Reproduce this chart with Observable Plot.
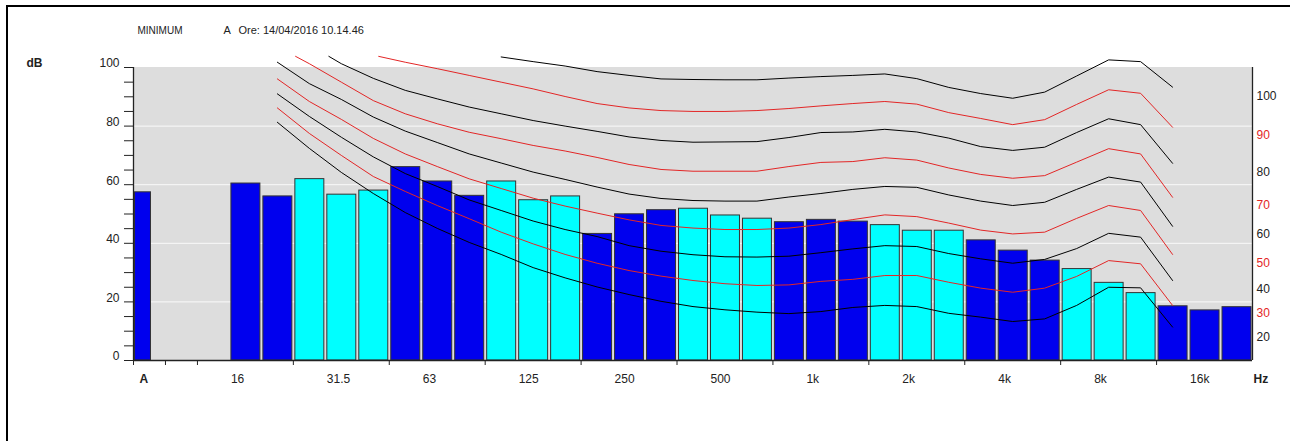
<!DOCTYPE html>
<html>
<head>
<meta charset="utf-8">
<script src="https://cdn.jsdelivr.net/npm/d3@7"></script>
<script src="https://cdn.jsdelivr.net/npm/@observablehq/plot@0.6"></script>
<style>
  html, body { margin: 0; padding: 0; background: #fff; }
  #wrap { position: relative; width: 1290px; height: 441px; overflow: hidden; }
  #wrap svg { display: block; }
  #border { position: absolute; left: 6px; top: 5px; right: 0; bottom: 0; border-top: 2px solid #000; border-left: 2px solid #000; pointer-events: none; }
</style>
</head>
<body>
<div id="wrap"><div id="border"></div></div>
<script>
// ---- data ----
const headerLeft = "MINIMUM";
const headerMode = "A";
const headerTime = "Ore: 14/04/2016 10.14.46";

// third-octave bands (slots 3..34); slot 0 is the overall A value
const bands = ["16","20","25","31.5","40","50","63","80","100","125","160","200","250","315","400","500","630","800","1k","1.25k","1.6k","2k","2.5k","3.15k","4k","5k","6.3k","8k","10k","12.5k","16k","20k"];
const levels = [60.4,56.0,61.9,56.6,58.0,66.0,61.1,56.2,61.1,54.7,56.0,43.2,49.9,51.3,51.8,49.5,48.4,47.2,48.0,47.4,46.2,44.3,44.3,41.0,37.5,34.1,31.2,26.5,23.0,18.5,17.1,18.2];
const overallA = 57.4;

const tickLabels = ["16","31.5","63","125","250","500","1k","2k","4k","8k","16k"];
const yTickLabels = [0,20,40,60,80,100];

// equal-loudness curves, values at bands 20 Hz .. 12.5 kHz (slots 4..32)
const phon20 = [81.3,72.4,64.2,57.0,50.5,45.1,40.3,36.2,31.7,28.2,25.1,22.5,20.2,18.4,17.3,16.5,16.0,16.7,18.1,18.8,18.4,16.1,14.8,13.3,14.2,18.8,25.0,24.8,11.4];
const phon30 = [86.2,77.5,70.0,62.8,57.7,52.9,48.4,43.8,39.8,36.2,33.2,30.7,28.8,27.3,26.2,25.6,25.8,27.0,27.7,29.0,29.0,26.7,24.7,23.3,24.7,28.7,34.1,33.0,18.8];
const phon40 = [91.0,83.3,76.2,69.5,63.8,59.4,54.8,51.2,47.6,44.7,42.3,39.2,37.3,36.1,35.4,35.3,35.6,36.8,38.1,39.2,38.9,36.5,34.7,33.2,34.5,38.2,43.4,42.1,27.3];
const phon50 = [96.1,88.4,82.3,75.8,70.5,66.2,62.0,58.7,55.4,52.7,50.3,48.0,46.1,45.2,44.7,44.7,45.2,46.4,48.1,49.7,49.1,46.9,44.5,43.2,43.8,48.5,52.9,51.2,36.2];
const phon60 = [101.8,94.5,89.1,83.1,78.3,74.4,70.5,67.4,64.3,61.8,59.2,56.8,55.3,54.6,54.4,54.4,55.8,57.0,58.4,59.4,59.1,56.5,54.4,52.9,54.0,58.4,62.6,60.9,45.8];
const phon70 = [null,101.3,95.0,88.7,84.2,80.8,77.9,75.7,73.4,71.5,69.3,66.9,65.2,64.6,64.6,64.6,66.2,67.6,67.9,69.2,68.4,65.7,63.5,62.2,63.1,67.7,72.3,70.5,55.7];
const phon80 = [null,null,101.3,96.3,92.2,89.3,86.5,84.2,81.9,80.0,78.2,76.3,75.1,74.5,74.6,74.7,76.1,77.8,78.0,78.9,78.0,75.9,73.0,71.7,72.8,77.8,82.5,80.5,67.3];
const phon90 = [null,null,null,null,101.8,99.6,97.3,95.0,92.7,90.1,87.7,86.2,85.3,85.0,85.0,85.3,86.0,86.9,87.7,88.4,87.5,84.6,82.6,80.5,82.2,87.4,92.4,91.2,79.6];
const phon100 = [null,null,null,null,null,null,null,103.6,102.0,100.5,98.6,97.3,96.1,95.9,95.8,95.8,96.4,96.9,97.3,97.8,96.2,93.2,91.1,89.5,91.6,97.1,102.6,102.0,93.3];
// where the clipped curves enter the chart (slot position, dB)
const curveStarts = [[70, 4.57, 103.8], [80, 5.61, 103.8], [90, 7.17, 103.8]];

const rightLabels = [100,90,80,70,60,50,40,30,20];
const rightLabelDb = [90.2,76.8,64.3,52.9,43.0,33.1,24.2,16.0,7.8];

// ---- derived tables ----
const FIRST_BAND_SLOT = 3, FIRST_CURVE_SLOT = 4, NSLOTS = 35;
const BLUE = "#0000ee", CYAN = "#00ffff", RED = "#e32626", INK = "#222";

const bandData = bands.map((b, i) => {
  const slot = i + FIRST_BAND_SLOT;
  const g = Math.floor((slot - 5) / 3);
  return {band: b, slot, db: levels[i], fill: (g % 2 === 0) ? CYAN : BLUE};
});

const curveSets = [[20,phon20],[30,phon30],[40,phon40],[50,phon50],[60,phon60],[70,phon70],[80,phon80],[90,phon90],[100,phon100]];
const curvePts = [];
for (const [phon, vals] of curveSets) {
  const st = curveStarts.find(s => s[0] === phon);
  if (st) curvePts.push({phon, pos: st[1], db: st[2]});
  vals.forEach((v, i) => { if (v != null) curvePts.push({phon, pos: FIRST_CURVE_SLOT + i, db: v}); });
}

const labelData = tickLabels.map(l => ({label: l, slot: bands.indexOf(l) + FIRST_BAND_SLOT}));
const rightData = rightLabels.map((l, i) => ({label: l, db: rightLabelDb[i], red: l % 20 !== 0}));
const bottomTicks = [-0.5, 0.5, 1.5, ...d3.range(4.5, 32, 3)];

const xmin = -0.5, xmax = NSLOTS - 0.5;
const font = "'Liberation Sans', Arial, sans-serif";

const chart = Plot.plot({
  width: 1290,
  height: 441,
  marginLeft: 133,
  marginRight: 38,
  marginTop: 67,
  marginBottom: 81,
  x: {domain: [xmin, xmax], axis: null},
  y: {domain: [0, 100], axis: null},
  style: {fontFamily: font, fontSize: "12px", background: "transparent", color: INK, overflow: "visible"},
  marks: [
    // background and grid
    Plot.rect([0], {x1: xmin, x2: xmax, y1: 0, y2: 100, fill: "#dddddd"}),
    Plot.ruleY([20, 40, 60, 80], {x1: xmin, x2: xmax, stroke: "#f4f4f4", strokeWidth: 1.2}),
    // bars
    Plot.rect([overallA], {x1: xmin, x2: xmin + 1, y1: 0, y2: d => d, fill: BLUE, stroke: "#333", strokeWidth: 1, insetLeft: 1.5, insetRight: 14.5}),
    Plot.rect(bandData, {x1: d => d.slot - 0.5, x2: d => d.slot + 0.5, y1: 0, y2: "db", fill: "fill", stroke: "#333", strokeWidth: 1, insetLeft: 2, insetRight: 1}),
    // curves
    Plot.line(curvePts, {x: "pos", y: "db", z: "phon", stroke: d => d.phon % 20 === 0 ? "#000" : RED, strokeWidth: 1, curve: "linear"}),
    // axes lines
    Plot.ruleX([xmin], {y1: 0, y2: 100, stroke: INK, strokeWidth: 1.3}),
    Plot.ruleX([xmax], {y1: 0, y2: 100, stroke: INK, strokeWidth: 1.3}),
    Plot.ruleY([0], {x1: xmin, x2: xmax, stroke: INK, strokeWidth: 1.3}),
    // left axis ticks and labels
    Plot.axisY({ticks: d3.range(0, 101, 5), tickSize: 9, tickFormat: () => "", label: null, stroke: INK}),
    Plot.text(yTickLabels, {x: xmin, y: d => d, text: d => String(d), dx: -14, dy: -4, textAnchor: "end", fill: INK, fontSize: 12}),
    // bottom axis ticks and labels
    Plot.axisX({ticks: bottomTicks, tickSize: 5, tickFormat: () => "", label: null, stroke: INK}),
    Plot.text(labelData, {x: d => d.slot - 0.5, y: 0, text: "label", dx: 1.5, dy: 19, textAnchor: "start", fill: INK, fontSize: 12}),
    Plot.text(["A"], {x: xmin, y: 0, dx: 6, dy: 19, textAnchor: "start", fill: INK, fontSize: 12, fontWeight: "bold"}),
    Plot.text(["Hz"], {x: xmax, y: 0, dx: 1, dy: 19, textAnchor: "start", fill: INK, fontSize: 12, fontWeight: "bold"}),
    // right labels
    Plot.text(rightData, {x: xmax, y: "db", text: d => String(d.label), dx: 4, textAnchor: "start", fill: d => d.red ? RED : INK, fontSize: 12}),
    // header texts
    Plot.text(["dB"], {frameAnchor: "top-left", dx: -107, dy: -4, textAnchor: "start", lineAnchor: "middle", fontWeight: "bold", fontSize: 12, fill: INK}),
    Plot.text([headerLeft], {frameAnchor: "top-left", dx: 4, dy: -37, textAnchor: "start", lineAnchor: "middle", fontSize: 10, fill: INK}),
    Plot.text([headerMode], {frameAnchor: "top-left", dx: 90, dy: -37, textAnchor: "start", lineAnchor: "middle", fontSize: 11, fill: INK}),
    Plot.text([headerTime], {frameAnchor: "top-left", dx: 105, dy: -37, textAnchor: "start", lineAnchor: "middle", fontSize: 11, fill: INK})
  ]
});

document.getElementById("wrap").prepend(chart);
</script>
</body>
</html>
